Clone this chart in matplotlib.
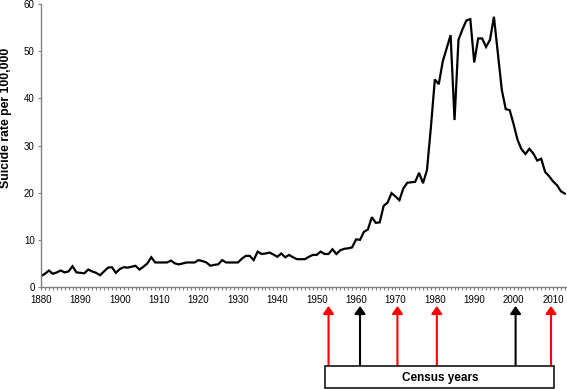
import numpy as np
import matplotlib
matplotlib.use("Agg")
import matplotlib.pyplot as plt
from matplotlib.patches import Rectangle

plt.rcParams['font.family'] = ['Liberation Sans', 'DejaVu Sans']

years = np.arange(1880, 2014)
rates = [
    2.3, 2.8, 3.5, 2.8, 3.1, 3.5, 3.1, 3.3, 4.4, 3.1,
    3.0, 2.9, 3.7, 3.3, 3.0, 2.5, 3.3, 4.1, 4.2, 3.0,
    3.8, 4.2, 4.1, 4.3, 4.5, 3.7, 4.3, 5.0, 6.3, 5.2,
    5.2, 5.2, 5.2, 5.6, 5.0, 4.8, 5.0, 5.2, 5.2, 5.2,
    5.7, 5.5, 5.2, 4.5, 4.7, 4.8, 5.7, 5.2, 5.2, 5.2,
    5.2, 6.0, 6.6, 6.6, 5.7, 7.5, 7.0, 7.1, 7.3, 6.9,
    6.4, 7.1, 6.3, 6.8, 6.3, 5.9, 5.9, 5.9, 6.4, 6.8,
    6.8, 7.5, 7.0, 7.0, 8.0, 7.0, 7.8, 8.1, 8.2, 8.4,
    10.1, 10.0, 11.7, 12.2, 14.8, 13.6, 13.7, 17.2, 17.9, 19.9,
    19.2, 18.4, 20.9, 22.1, 22.2, 22.3, 24.2, 22.0, 24.8, 33.9,
    44.0, 43.0, 47.8, 50.6, 53.4, 35.4, 52.4, 54.6, 56.5, 56.8,
    47.6, 52.7, 52.7, 50.9, 52.4, 57.3, 49.5, 41.8, 37.7, 37.5,
    34.5, 31.2, 29.2, 28.2, 29.3, 28.3, 26.8, 27.2, 24.4, 23.5,
    22.4, 21.6, 20.3, 19.8,
]
xtick_labels = list(range(1880, 2011, 10))
yticks = [0, 10, 20, 30, 40, 50, 60]
census_years = [1953, 1961, 1970.5, 1980.5, 2000.5, 2009.5]
census_colors = ['#FF0000', '#000000', '#FF0000', '#FF0000', '#000000', '#FF0000']

W, H = 567, 389
fig = plt.figure(figsize=(W / 100, H / 100), dpi=100)
L, R = 41 / W, 566 / W
ax = fig.add_axes([L, 1 - 287 / H, R - L, (287 - 4) / H])

ax.plot(years, rates, color='black', lw=1.6, solid_joinstyle='miter')
xmin, xmax = 1880, 2013.3
ax.set_xlim(xmin, xmax)
ax.set_ylim(0, 60)
ax.set_yticks(yticks)
ax.set_xticks(xtick_labels)
ax.set_xticks(np.arange(1880, 2014), minor=True)
for s in ['top', 'right']:
    ax.spines[s].set_visible(False)
for s in ['left', 'bottom']:
    ax.spines[s].set_color('#808080')
    ax.spines[s].set_linewidth(1.0)
ax.tick_params(axis='both', which='both', direction='out', color='#808080',
               length=2.5, width=0.8, labelsize=7, pad=2)
ax.tick_params(axis='x', which='major', pad=3)
fig.text(6 / W, 1 - 118 / H, 'Suicide rate per 100,000', rotation=90,
         ha='center', va='center', fontsize=8.8, fontweight='bold')

# Census arrows panel
ax2 = fig.add_axes([L, 0, R - L, (H - 297) / H])
ax2.set_xlim(xmin, xmax)
ax2.set_ylim(H, 297)
ax2.axis('off')
box_top, box_bot = 366, 388
for yr, c in zip(census_years, census_colors):
    ax2.annotate('', xy=(yr, 306), xytext=(yr, box_top),
                 arrowprops=dict(arrowstyle='-|>,head_length=0.45,head_width=0.32',
                                 color=c, lw=1.5, mutation_scale=10,
                                 shrinkA=0, shrinkB=0))
x0 = census_years[0] - 0.8
x1 = census_years[-1] + 0.8
ax2.add_patch(Rectangle((x0, box_top), x1 - x0, box_bot - box_top,
                        facecolor='white', edgecolor='black', lw=1.1,
                        clip_on=False, zorder=3))
ax2.text((x0 + x1) / 2, (box_top + box_bot) / 2 + 1, 'Census years',
         ha='center', va='center', fontsize=8.5, fontweight='bold', zorder=4)

fig.savefig('out.png', dpi=100)
